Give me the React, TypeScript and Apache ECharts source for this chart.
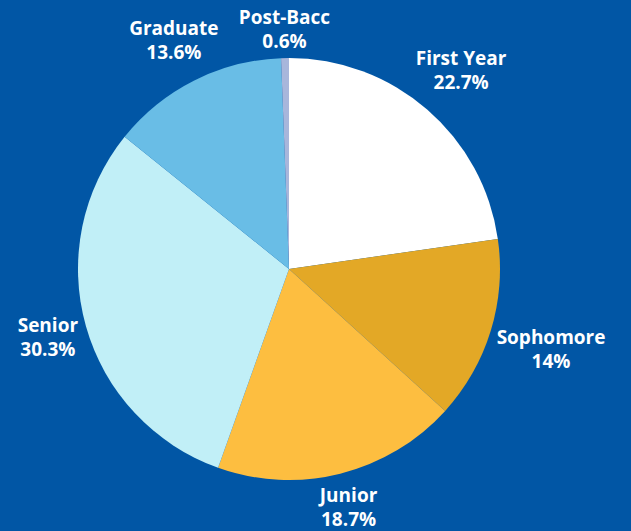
import React, { useEffect, useRef } from "react";
import * as echarts from "echarts";

const categories = ["First Year", "Sophomore", "Junior", "Senior", "Graduate", "Post-Bacc"];
const values = [22.7, 14, 18.7, 30.3, 13.6, 0.6];
const colors = ["#FFFFFF", "#E3A826", "#FDBE40", "#C1EFF7", "#69BDE6", "#A8B6DB"];

const CX = 289;
const CY = 269;
const R = 211;
const GAP = 4;

export default function App() {
  const ref = useRef<HTMLDivElement>(null);
  useEffect(() => {
    if (!ref.current) return;
    const chart = echarts.init(ref.current, undefined, { renderer: "svg" });
    const total = values.reduce((a, b) => a + b, 0);
    const cum: number[] = [];
    let acc = 0;
    values.forEach((v) => {
      cum.push(acc);
      acc += v;
    });
    chart.setOption({
      animation: false,
      backgroundColor: "#0156A5",
      series: [
        {
          type: "pie",
          center: [CX, CY],
          radius: R,
          startAngle: 90,
          clockwise: true,
          avoidLabelOverlap: false,
          data: categories.map((name, i) => ({
            name,
            value: values[i],
            itemStyle: { color: colors[i] },
          })),
          itemStyle: { borderWidth: 0 },
          label: {
            show: true,
            position: "outside",
            formatter: (p: any) => `${p.name}\n${p.value}%`,
            color: "#FFFFFF",
            fontFamily: "'Open Sans', sans-serif",
            fontWeight: "bold",
            fontSize: 19,
            lineHeight: 24,
            align: "center",
          },
          labelLine: { show: false },
          labelLayout: (params: any) => {
            const i = params.dataIndex;
            const mid = 90 - ((cum[i] + values[i] / 2) / total) * 360;
            const rad = (mid * Math.PI) / 180;
            const dx = Math.cos(rad);
            const dy = -Math.sin(rad);
            const w = params.labelRect.width;
            const h = params.labelRect.height;
            const ext = Math.abs(dx) * (w / 2) + Math.abs(dy) * (h / 2);
            const d = R + GAP + ext;
            return {
              x: CX + dx * d,
              y: CY + dy * d,
              align: "center",
              verticalAlign: "middle",
            };
          },
        },
      ],
    });
    return () => chart.dispose();
  }, []);
  return (
    <div
      ref={ref}
      style={{ position: "fixed", left: 0, top: 0, width: 631, height: 531 }}
    />
  );
}
